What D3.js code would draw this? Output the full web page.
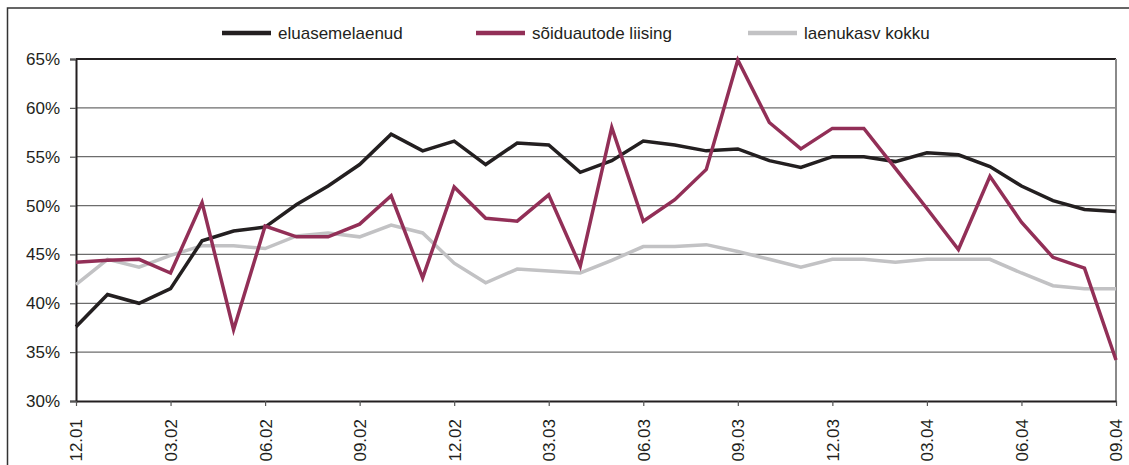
<!DOCTYPE html>
<html>
<head>
<meta charset="utf-8">
<script src="https://cdn.jsdelivr.net/npm/d3@7"></script>
<style>
  body { margin: 0; background: #fff; }
  text { font-family: "Liberation Sans", Arial, sans-serif; fill: #231f20; }
</style>
</head>
<body>
<div id="chart"></div>
<script>
// months, 12.01 .. 09.04
const months = ["12.01","01.02","02.02","03.02","04.02","05.02","06.02","07.02","08.02","09.02","10.02","11.02",
  "12.02","01.03","02.03","03.03","04.03","05.03","06.03","07.03","08.03","09.03","10.03","11.03",
  "12.03","01.04","02.04","03.04","04.04","05.04","06.04","07.04","08.04","09.04"];
const tickLabels = ["12.01","03.02","06.02","09.02","12.02","03.03","06.03","09.03","12.03","03.04","06.04","09.04"];
const yTicks = [30, 35, 40, 45, 50, 55, 60, 65];

const eluasemelaenud = [37.6, 40.9, 40.0, 41.5, 46.4, 47.4, 47.8, 50.1, 52.0, 54.2, 57.3, 55.6,
  56.6, 54.2, 56.4, 56.2, 53.4, 54.6, 56.6, 56.2, 55.6, 55.8, 54.6, 53.9,
  55.0, 55.0, 54.5, 55.4, 55.2, 54.0, 52.0, 50.5, 49.6, 49.4];
const soiduautod = [44.2, 44.4, 44.5, 43.1, 50.3, 37.3, 47.9, 46.8, 46.8, 48.1, 51.0, 42.6,
  51.9, 48.7, 48.4, 51.1, 43.8, 58.0, 48.4, 50.6, 53.7, 64.9, 58.5, 55.8,
  57.9, 57.9, 53.8, 49.7, 45.5, 53.0, 48.3, 44.7, 43.6, 34.2];
const laenukasv = [41.9, 44.5, 43.7, 44.9, 45.9, 45.9, 45.6, 46.9, 47.2, 46.8, 48.0, 47.2,
  44.1, 42.1, 43.5, 43.3, 43.1, 44.4, 45.8, 45.8, 46.0, 45.3, 44.5, 43.7,
  44.5, 44.5, 44.2, 44.5, 44.5, 44.5, 43.1, 41.8, 41.5, 41.5];

const seriesNames = ["eluasemelaenud", "sõiduautode liising", "laenukasv kokku"];
const seriesColors = ["#231f20", "#922f57", "#c2c2c4"];
const seriesData = [eluasemelaenud, soiduautod, laenukasv];

const width = 1129, height = 465;
const margin = { left: 76, top: 59, right: 1129 - 1116, bottom: 465 - 401 };

const svg = d3.select("#chart").append("svg")
  .attr("width", width)
  .attr("height", height);

// outer frame (runs off the right and bottom)
svg.append("rect")
  .attr("x", 7.5).attr("y", 8)
  .attr("width", 1200).attr("height", 600)
  .attr("fill", "none")
  .attr("stroke", "#333").attr("stroke-width", 1.5);

const x = d3.scalePoint()
  .domain(months)
  .range([margin.left, width - margin.right]);

const y = d3.scaleLinear()
  .domain([30, 65])
  .range([height - margin.bottom, margin.top]);

// gridlines
svg.append("g")
  .selectAll("line")
  .data(yTicks.filter(d => d > 30 && d < 65))
  .join("line")
  .attr("x1", margin.left).attr("x2", width - margin.right)
  .attr("y1", d => y(d)).attr("y2", d => y(d))
  .attr("stroke", "#6d6d6d").attr("stroke-width", 1.2);

// plot top and right border
svg.append("line")
  .attr("x1", margin.left).attr("x2", width - margin.right)
  .attr("y1", y(65)).attr("y2", y(65))
  .attr("stroke", "#231f20").attr("stroke-width", 2);
svg.append("line")
  .attr("x1", width - margin.right).attr("x2", width - margin.right)
  .attr("y1", y(65)).attr("y2", y(30))
  .attr("stroke", "#8a8a8a").attr("stroke-width", 2);

// y axis
const yAxis = svg.append("g")
  .attr("transform", `translate(${margin.left},0)`)
  .call(d3.axisLeft(y).tickValues(yTicks).tickFormat(d => d + "%").tickSize(6).tickPadding(10));
yAxis.select(".domain").attr("stroke", "#231f20").attr("stroke-width", 2);
yAxis.selectAll(".tick line").attr("stroke", "#555").attr("stroke-width", 1.2);
yAxis.selectAll("text").style("font-size", "17px").attr("fill", "#231f20");

// x axis
const xAxis = svg.append("g")
  .attr("transform", `translate(0,${y(30)})`)
  .call(d3.axisBottom(x).tickValues(tickLabels).tickSize(5).tickSizeOuter(0));
xAxis.select(".domain").attr("stroke", "#231f20").attr("stroke-width", 2);
xAxis.selectAll(".tick line").attr("stroke", "#555").attr("stroke-width", 1.2);
xAxis.selectAll("text")
  .style("font-size", "17px")
  .attr("fill", "#231f20")
  .attr("transform", "rotate(-90)")
  .attr("x", -18).attr("y", 0)
  .attr("dy", "0.35em")
  .attr("text-anchor", "end");

// series lines
const line = d3.line()
  .x((d, i) => x(months[i]))
  .y(d => y(d));

// draw order: gray under, then black, then magenta
[2, 0, 1].forEach(k => {
  svg.append("path")
    .datum(seriesData[k])
    .attr("fill", "none")
    .attr("stroke", seriesColors[k])
    .attr("stroke-width", 3.5)
    .attr("stroke-linejoin", "miter")
    .attr("d", line);
});

// legend
const legendX = [222, 476, 748];
const legend = svg.append("g");
seriesNames.forEach((name, k) => {
  legend.append("line")
    .attr("x1", legendX[k]).attr("x2", legendX[k] + 49)
    .attr("y1", 33).attr("y2", 33)
    .attr("stroke", seriesColors[k]).attr("stroke-width", 4.5);
  legend.append("text")
    .attr("x", legendX[k] + 56).attr("y", 33)
    .attr("dy", "0.35em")
    .style("font-size", "17px")
    .text(name);
});
</script>
</body>
</html>
